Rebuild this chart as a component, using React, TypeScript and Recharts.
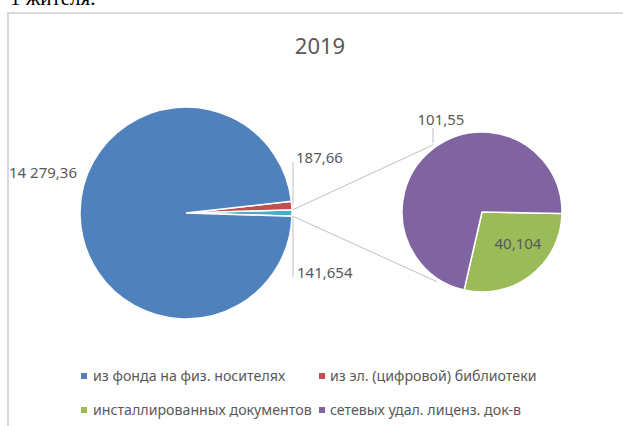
import React from 'react';
import { PieChart, Pie, Cell, Legend, Customized } from 'recharts';

const title = '2019';
const mainNames = ['Другой', 'из эл. (цифровой) библиотеки', 'из фонда на физ. носителях'];
const mainValues = [141.654, 187.66, 14279.36];
const mainColors = ['#4bacc6', '#c0504d', '#4f81bd'];
const subNames = ['инсталлированных документов', 'сетевых удал. лиценз. док-в'];
const subValues = [40.104, 101.55];
const subColors = ['#9bbb59', '#8064a2'];
const legendNames = [
  'из фонда на физ. носителях',
  'из эл. (цифровой) библиотеки',
  'инсталлированных документов',
  'сетевых удал. лиценз. док-в',
];
const legendColors = ['#4f81bd', '#c0504d', '#9bbb59', '#8064a2'];

const FONT = '"Noto Sans", sans-serif';
const TXT = '#595959';
const LINE = '#bfbfbf';

const CX1 = 186;
const CY1 = 213;
const R1 = 106;
const CX2 = 482;
const CY2 = 212;
const R2 = 80;

const fmt = (v: number) => {
  const [i, d] = String(v).split('.');
  const int = i.replace(/\B(?=(\d{3})+(?!\d))/g, ' ');
  return d ? `${int},${d}` : int;
};

const mainData = mainNames.map((n, i) => ({ name: n, value: mainValues[i] }));
const subData = subNames.map((n, i) => ({ name: n, value: subValues[i] }));
const mainTotal = mainValues.reduce((a, b) => a + b, 0);
const otherDeg = (mainValues[0] / mainTotal) * 360;
const mainStart = -otherDeg / 2;

const RAD = Math.PI / 180;

const mainLabel = (p: any) => {
  const { cx, cy, outerRadius, index, value } = p;
  const t = fmt(value);
  const common = { fill: TXT, fontSize: 15, fontFamily: FONT, dominantBaseline: 'central' as const };
  if (index === 0) {
    const x = cx + outerRadius + 1;
    return (
      <g>
        <line x1={x} y1={cy + 3} x2={x} y2={cy + 64} stroke={LINE} strokeWidth={1} />
        <text x={x + 4} y={cy + 59} {...common} textAnchor="start">{t}</text>
      </g>
    );
  }
  if (index === 1) {
    const x = cx + outerRadius + 1;
    return (
      <g>
        <line x1={x} y1={cy - 8} x2={x} y2={cy - 51} stroke={LINE} strokeWidth={1} />
        <text x={x + 3} y={cy - 56} {...common} textAnchor="start">{t}</text>
      </g>
    );
  }
  return (
    <text x={cx - outerRadius - 3} y={cy - 41} {...common} textAnchor="end">{t}</text>
  );
};

const subLabel = (p: any) => {
  const { cx, cy, index, value } = p;
  const t = fmt(value);
  const common = { fill: TXT, fontSize: 15, fontFamily: FONT, dominantBaseline: 'central' as const };
  if (index === 0) {
    return <text x={cx + 36} y={cy + 31} {...common} textAnchor="middle">{t}</text>;
  }
  return (
    <g>
      <line x1={cx - 49} y1={cy - 69} x2={cx - 49} y2={cy - 84} stroke={LINE} strokeWidth={1} />
      <text x={cx - 41} y={cy - 93} {...common} textAnchor="middle">{t}</text>
    </g>
  );
};

const Connectors = () => {
  const a1 = (otherDeg / 2) * RAD;
  const p1 = { x: CX1 + (R1 + 1) * Math.cos(a1), y: CY1 - (R1 + 1) * Math.sin(a1) };
  const p2 = { x: CX1 + (R1 + 1) * Math.cos(-a1), y: CY1 - (R1 + 1) * Math.sin(-a1) };
  const b1 = 126 * RAD;
  const b2 = -123 * RAD;
  const q1 = { x: CX2 + (R2 + 3) * Math.cos(b1), y: CY2 - (R2 + 3) * Math.sin(b1) };
  const q2 = { x: CX2 + (R2 + 3) * Math.cos(b2), y: CY2 - (R2 + 3) * Math.sin(b2) };
  return (
    <g>
      <line x1={p1.x} y1={p1.y} x2={q1.x} y2={q1.y} stroke={LINE} strokeWidth={1} />
      <line x1={p2.x} y1={p2.y} x2={q2.x} y2={q2.y} stroke={LINE} strokeWidth={1} />
      <text x={320} y={45} textAnchor="middle" dominantBaseline="central" fill={TXT} fontSize={22} fontFamily={FONT}>
        {title}
      </text>
    </g>
  );
};

const renderLegend = () => {
  const pos = [
    { sx: 81, tx: 93, y: 376 },
    { sx: 319, tx: 330, y: 376 },
    { sx: 81, tx: 93, y: 410 },
    { sx: 319, tx: 330, y: 410 },
  ];
  return (
    <div style={{ position: 'relative', width: 623, height: 426 }}>
      {legendNames.map((n, i) => (
        <React.Fragment key={n}>
          <div
            style={{
              position: 'absolute',
              left: pos[i].sx,
              top: pos[i].y - 3,
              width: 6,
              height: 6,
              background: legendColors[i],
            }}
          />
          <div
            style={{
              position: 'absolute',
              left: pos[i].tx,
              top: pos[i].y - 11,
              height: 22,
              lineHeight: '22px',
              fontSize: 14.2,
              fontFamily: FONT,
              color: TXT,
              whiteSpace: 'nowrap',
            }}
          >
            {n}
          </div>
        </React.Fragment>
      ))}
    </div>
  );
};

export default function App() {
  return (
    <div style={{ position: 'absolute', left: 0, top: 0, width: 623, height: 426, overflow: 'hidden', background: '#fff' }}>
      <div
        style={{
          position: 'absolute',
          left: 10,
          top: -12,
          fontFamily: '"Liberation Serif", serif',
          fontSize: 21,
          lineHeight: '21px',
          color: '#000',
          whiteSpace: 'nowrap',
        }}
      >
        1 жителя.
      </div>
      <div
        style={{
          position: 'absolute',
          left: 7,
          top: 12,
          width: 700,
          height: 500,
          border: '2px solid #d9d9d9',
          boxSizing: 'border-box',
        }}
      />
      <div style={{ position: 'absolute', left: 0, top: 0 }}>
        <PieChart width={623} height={426} margin={{ top: 0, right: 0, bottom: 0, left: 0 }}>
          <Pie
            data={mainData}
            dataKey="value"
            cx={CX1}
            cy={CY1}
            outerRadius={R1}
            startAngle={mainStart}
            endAngle={mainStart + 360}
            stroke="#fff"
            strokeWidth={1.5}
            label={mainLabel}
            labelLine={false}
            isAnimationActive={false}
          >
            {mainData.map((d, i) => (
              <Cell key={d.name} fill={mainColors[i]} />
            ))}
          </Pie>
          <Pie
            data={subData}
            dataKey="value"
            cx={CX2}
            cy={CY2}
            outerRadius={R2}
            startAngle={-1}
            endAngle={-361}
            stroke="#fff"
            strokeWidth={1.5}
            label={subLabel}
            labelLine={false}
            isAnimationActive={false}
          >
            {subData.map((d, i) => (
              <Cell key={d.name} fill={subColors[i]} />
            ))}
          </Pie>
          <Customized component={Connectors} />
          <Legend
            content={renderLegend}
            wrapperStyle={{ position: 'absolute', left: 0, top: 0, width: 623, height: 426, pointerEvents: 'none' }}
          />
        </PieChart>
      </div>
    </div>
  );
}
